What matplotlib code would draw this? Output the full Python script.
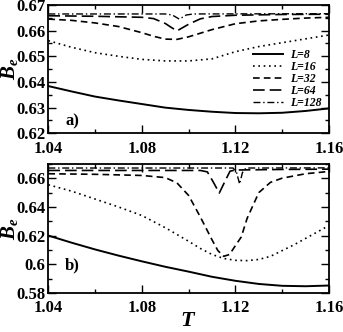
import matplotlib
matplotlib.use("Agg")
import matplotlib.pyplot as plt
from matplotlib.ticker import MultipleLocator, FixedLocator

plt.rcParams['font.family'] = ['Liberation Serif', 'DejaVu Serif']
plt.rcParams['mathtext.fontset'] = 'custom'
plt.rcParams['mathtext.it'] = 'Liberation Serif:italic:bold'
plt.rcParams['mathtext.rm'] = 'Liberation Serif:bold'

# ---------------- data: panel a) ----------------
a_T_L8 = [1.04, 1.05, 1.06, 1.07, 1.08, 1.09, 1.10, 1.11, 1.12, 1.13, 1.14, 1.15, 1.16]
a_L8 = [0.6384, 0.6363, 0.6343, 0.6328, 0.6314, 0.6300, 0.6291, 0.6284, 0.6279, 0.6278, 0.6280, 0.6287, 0.6297]

a_T_L16 = [1.04, 1.05, 1.06, 1.07, 1.08, 1.09, 1.10, 1.11, 1.12, 1.13, 1.14, 1.15, 1.16]
a_L16 = [0.6561, 0.6535, 0.6514, 0.6500, 0.6488, 0.6482, 0.6482, 0.6490, 0.6518, 0.6538, 0.6553, 0.6568, 0.6583]

a_T_L32 = [1.04, 1.05, 1.06, 1.07, 1.08, 1.085, 1.09, 1.095, 1.10, 1.105, 1.11, 1.12, 1.13, 1.14, 1.15, 1.16]
a_L32 = [0.6645, 0.6640, 0.6630, 0.6616, 0.6592, 0.6578, 0.6567, 0.6566, 0.6576, 0.6590, 0.6604, 0.6627, 0.6638, 0.6644, 0.6649, 0.6652]

a_T_L64 = [1.04, 1.06, 1.08, 1.085, 1.09, 1.0925, 1.095, 1.0975, 1.10, 1.105, 1.11, 1.12, 1.14, 1.16]
a_L64 = [0.6658, 0.6656, 0.6652, 0.6647, 0.6628, 0.6613, 0.6599, 0.6612, 0.6625, 0.6646, 0.6655, 0.6660, 0.6663, 0.6664]

a_T_L128 = [1.04, 1.09, 1.093, 1.096, 1.099, 1.102, 1.16]
a_L128 = [0.6665, 0.6665, 0.6661, 0.6645, 0.6661, 0.6665, 0.6666]

# ---------------- data: panel b) ----------------
b_T_L8 = [1.04, 1.05, 1.06, 1.07, 1.08, 1.09, 1.10, 1.11, 1.12, 1.13, 1.14, 1.15, 1.16]
b_L8 = [0.6200, 0.6150, 0.6103, 0.6060, 0.6020, 0.5982, 0.5948, 0.5912, 0.5884, 0.5862, 0.5849, 0.5846, 0.5851]

b_T_L16 = [1.04, 1.05, 1.06, 1.07, 1.08, 1.09, 1.10, 1.105, 1.11, 1.115, 1.12, 1.125, 1.13,
           1.135, 1.14, 1.145, 1.15, 1.155, 1.16]
b_L16 = [0.6555, 0.6510, 0.6455, 0.6400, 0.6340, 0.6255, 0.6160, 0.6110, 0.6068, 0.6040, 0.6027, 0.6025,
         0.6033, 0.6055, 0.6095, 0.6135, 0.6180, 0.6225, 0.6270]

b_T_L32 = [1.04, 1.06, 1.08, 1.09, 1.095, 1.10, 1.105, 1.11, 1.1125, 1.115, 1.1175, 1.12, 1.1225,
           1.125, 1.13, 1.135, 1.14, 1.15, 1.16]
b_L32 = [0.6632, 0.6628, 0.6620, 0.6605, 0.6568, 0.6480, 0.6330, 0.6170, 0.6095, 0.6055, 0.6068, 0.6130,
         0.6190, 0.6320, 0.6500, 0.6572, 0.6601, 0.6632, 0.6648]

b_T_L64 = [1.04, 1.08, 1.105, 1.108, 1.1105, 1.1131, 1.1155, 1.1177, 1.12, 1.14, 1.16]
b_L64 = [0.6655, 0.6655, 0.6655, 0.6645, 0.6575, 0.6497, 0.6578, 0.6650, 0.6658, 0.6662, 0.6664]

b_T_L128 = [1.04, 1.119, 1.1205, 1.1218, 1.123, 1.1245, 1.16]
b_L128 = [0.6672, 0.6672, 0.6640, 0.6560, 0.6640, 0.6672, 0.6673]

labels = ['L=8', 'L=16', 'L=32', 'L=64', 'L=128']
x_ticks = [1.04, 1.08, 1.12, 1.16]

styles = [
    dict(ls='-', lw=1.4),
    dict(ls=(0, (1, 2.2)), lw=1.2),
    dict(ls=(0, (4, 2.5)), lw=1.2),
    dict(ls=(0, (7, 3)), lw=1.2),
    dict(ls=(0, (5, 2, 1, 2)), lw=1.0),
]

fig = plt.figure(figsize=(3.43, 3.32), dpi=100)
axA = fig.add_axes([0.141, 0.5985, 0.818, 0.3865])
axB = fig.add_axes([0.141, 0.118, 0.818, 0.388])

panelA = [(a_T_L8, a_L8), (a_T_L16, a_L16), (a_T_L32, a_L32), (a_T_L64, a_L64), (a_T_L128, a_L128)]
panelB = [(b_T_L8, b_L8), (b_T_L16, b_L16), (b_T_L32, b_L32), (b_T_L64, b_L64), (b_T_L128, b_L128)]

for (T, v), st, lab in zip(panelA, styles, labels):
    axA.plot(T, v, color='black', label=lab, **st)
for (T, v), st in zip(panelB, styles):
    axB.plot(T, v, color='black', **st)

tickfont = dict(family='Liberation Serif', weight='bold', size=12)

for ax in (axA, axB):
    ax.set_xlim(1.04, 1.16)
    ax.xaxis.set_major_locator(FixedLocator(x_ticks))
    ax.xaxis.set_minor_locator(MultipleLocator(0.02))
    ax.set_xticklabels([f'{t:.2f}' for t in x_ticks], fontdict=tickfont)
    ax.tick_params(which='both', direction='in', top=True, right=True, width=1.0)
    ax.tick_params(which='major', length=6)
    ax.tick_params(which='minor', length=3)
    ax.tick_params(axis='y', pad=2)
    ax.tick_params(axis='x', pad=5.5)
    for s in ax.spines.values():
        s.set_linewidth(1.3)
    ax.set_ylabel(r'$B_e$', fontsize=15)
    ax.yaxis.set_label_coords(-0.10, 0.5)

axA.set_ylim(0.62, 0.67)
yA = [0.62, 0.63, 0.64, 0.65, 0.66, 0.67]
axA.yaxis.set_major_locator(FixedLocator(yA))
axA.yaxis.set_minor_locator(MultipleLocator(0.005))
axA.set_yticklabels([f'{v:.2f}' for v in yA], fontdict=tickfont)

axB.set_ylim(0.58, 0.67)
yB = [0.58, 0.60, 0.62, 0.64, 0.66]
axB.yaxis.set_major_locator(FixedLocator(yB))
axB.yaxis.set_minor_locator(MultipleLocator(0.01))
axB.set_yticklabels(['0.58', '0.6', '0.62', '0.64', '0.66'], fontdict=tickfont)

axB.set_xlabel(r'$T$', fontsize=16, labelpad=-3)

axA.text(0.06, 0.03, 'a)', transform=axA.transAxes, fontsize=12, weight='bold', ha='left', va='bottom')
axB.text(0.06, 0.15, 'b)', transform=axB.transAxes, fontsize=12, weight='bold', ha='left', va='bottom')

leg = axA.legend(loc='upper right', bbox_to_anchor=(0.975, 0.655), frameon=False,
                 prop=dict(family='Liberation Serif', weight='bold', style='italic', size=8.5),
                 handlelength=2.6, handletextpad=0.6, labelspacing=0.0,
                 borderpad=0.0, borderaxespad=0.0)

fig.savefig('out.png', dpi=100)
